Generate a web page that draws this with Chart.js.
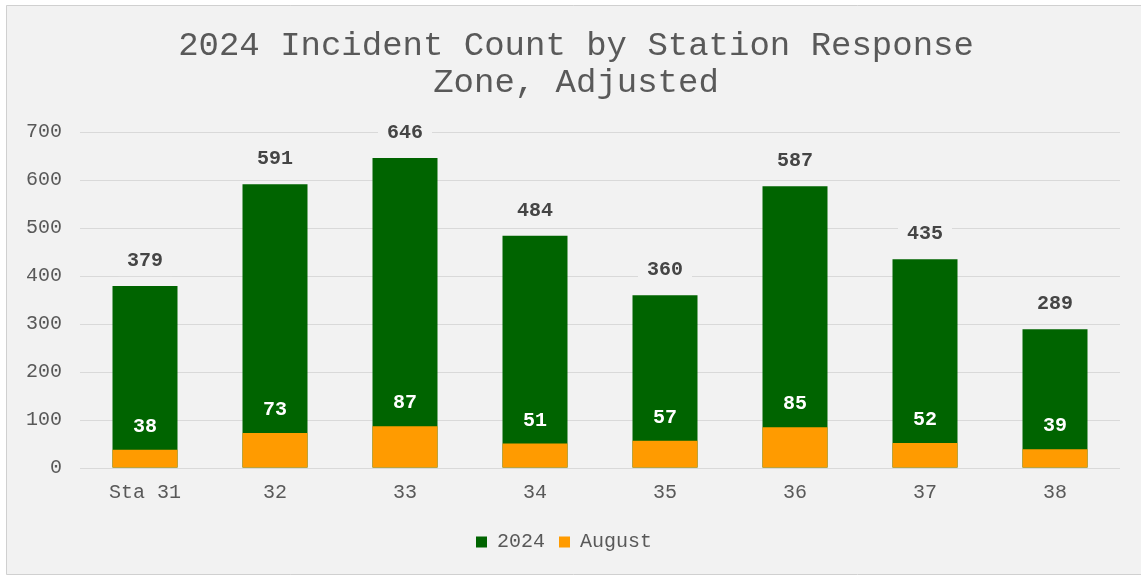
<!DOCTYPE html>
<html>
<head>
<meta charset="utf-8">
<script src="https://cdn.jsdelivr.net/npm/chart.js@4/dist/chart.umd.min.js"></script>
<style>
  html, body { margin: 0; padding: 0; background: #ffffff; }
  #wrap { position: absolute; left: 0; top: 0; width: 1141px; height: 576px; }
</style>
</head>
<body>
<div id="wrap"><canvas id="c" width="1141" height="576"></canvas></div>
<script>
const categories = ["Sta 31", "32", "33", "34", "35", "36", "37", "38"];
const values2024 = [379, 591, 646, 484, 360, 587, 435, 289];
const valuesAugust = [38, 73, 87, 51, 57, 85, 52, 39];
const yTicks = [0, 100, 200, 300, 400, 500, 600, 700];
const titleLines = ["2024 Incident Count by Station Response", "Zone, Adjusted"];

const MONO = "'Liberation Mono', 'Courier New', monospace";
const BG = "#f2f2f2";

const frame = {
  id: "frame",
  beforeDraw(chart) {
    const ctx = chart.ctx;
    ctx.save();
    ctx.fillStyle = "#ffffff";
    ctx.fillRect(0, 0, chart.width, chart.height);
    ctx.fillStyle = BG;
    ctx.fillRect(6, 5, chart.width - 6, 569);
    ctx.strokeStyle = "#d0d0d0";
    ctx.lineWidth = 1;
    ctx.beginPath();
    ctx.moveTo(chart.width, 5.5);
    ctx.lineTo(6.5, 5.5);
    ctx.lineTo(6.5, 574.5);
    ctx.lineTo(chart.width, 574.5);
    ctx.stroke();
    ctx.restore();
  }
};

const titlePlugin = {
  id: "centeredTitle",
  afterDraw(chart) {
    const ctx = chart.ctx;
    ctx.save();
    ctx.font = "34px " + MONO;
    ctx.fillStyle = "#595959";
    ctx.textAlign = "center";
    ctx.textBaseline = "middle";
    titleLines.forEach((line, i) => ctx.fillText(line, 576, 46 + i * 37));
    ctx.restore();
  }
};

const labelsPlugin = {
  id: "valueLabels",
  afterDatasetsDraw(chart) {
    const ctx = chart.ctx;
    ctx.save();
    ctx.font = "bold 20px " + MONO;
    ctx.textAlign = "center";
    ctx.textBaseline = "middle";
    const m0 = chart.getDatasetMeta(0);
    m0.data.forEach((bar, i) => {
      const y = bar.y - 25;
      ctx.fillStyle = BG;
      ctx.fillRect(bar.x - 27, y - 15, 54, 30);
      ctx.fillStyle = "#454545";
      ctx.fillText(String(values2024[i]), bar.x, y);
    });
    const m1 = chart.getDatasetMeta(1);
    m1.data.forEach((bar, i) => {
      ctx.fillStyle = "#ffffff";
      ctx.fillText(String(valuesAugust[i]), bar.x, bar.y - 23);
    });
    ctx.restore();
  }
};

new Chart(document.getElementById("c"), {
  type: "bar",
  data: {
    labels: categories,
    datasets: [
      { label: "2024", data: values2024, backgroundColor: "#006400", borderWidth: 0, order: 1 },
      { label: "August", data: valuesAugust, backgroundColor: "#ff9b00", borderWidth: 0, order: 0 }
    ]
  },
  options: {
    responsive: false,
    animation: false,
    devicePixelRatio: 1,
    layout: { padding: { left: 8, right: 21, top: 132, bottom: 14 } },
    datasets: { bar: { categoryPercentage: 1.0, barPercentage: 0.5 } },
    scales: {
      x: {
        stacked: true,
        grid: { display: false, drawTicks: false },
        border: { display: false },
        ticks: { color: "#595959", font: { family: MONO, size: 20 }, padding: 13 }
      },
      y: {
        stacked: false,
        min: 0,
        max: 700,
        afterBuildTicks(axis) { axis.ticks = yTicks.map(v => ({ value: v })); },
        grid: { color: "#d9d9d9", lineWidth: 1, drawTicks: false },
        border: { display: false },
        ticks: { color: "#595959", font: { family: MONO, size: 20 }, padding: 18 }
      }
    },
    plugins: {
      title: { display: false },
      legend: {
        position: "bottom",
        labels: {
          color: "#595959",
          font: { family: MONO, size: 20 },
          boxWidth: 11,
          boxHeight: 11,
          padding: 14,
          sort: (a, b) => a.datasetIndex - b.datasetIndex
        }
      },
      tooltip: { enabled: false }
    }
  },
  plugins: [frame, titlePlugin, labelsPlugin]
});
</script>
</body>
</html>
